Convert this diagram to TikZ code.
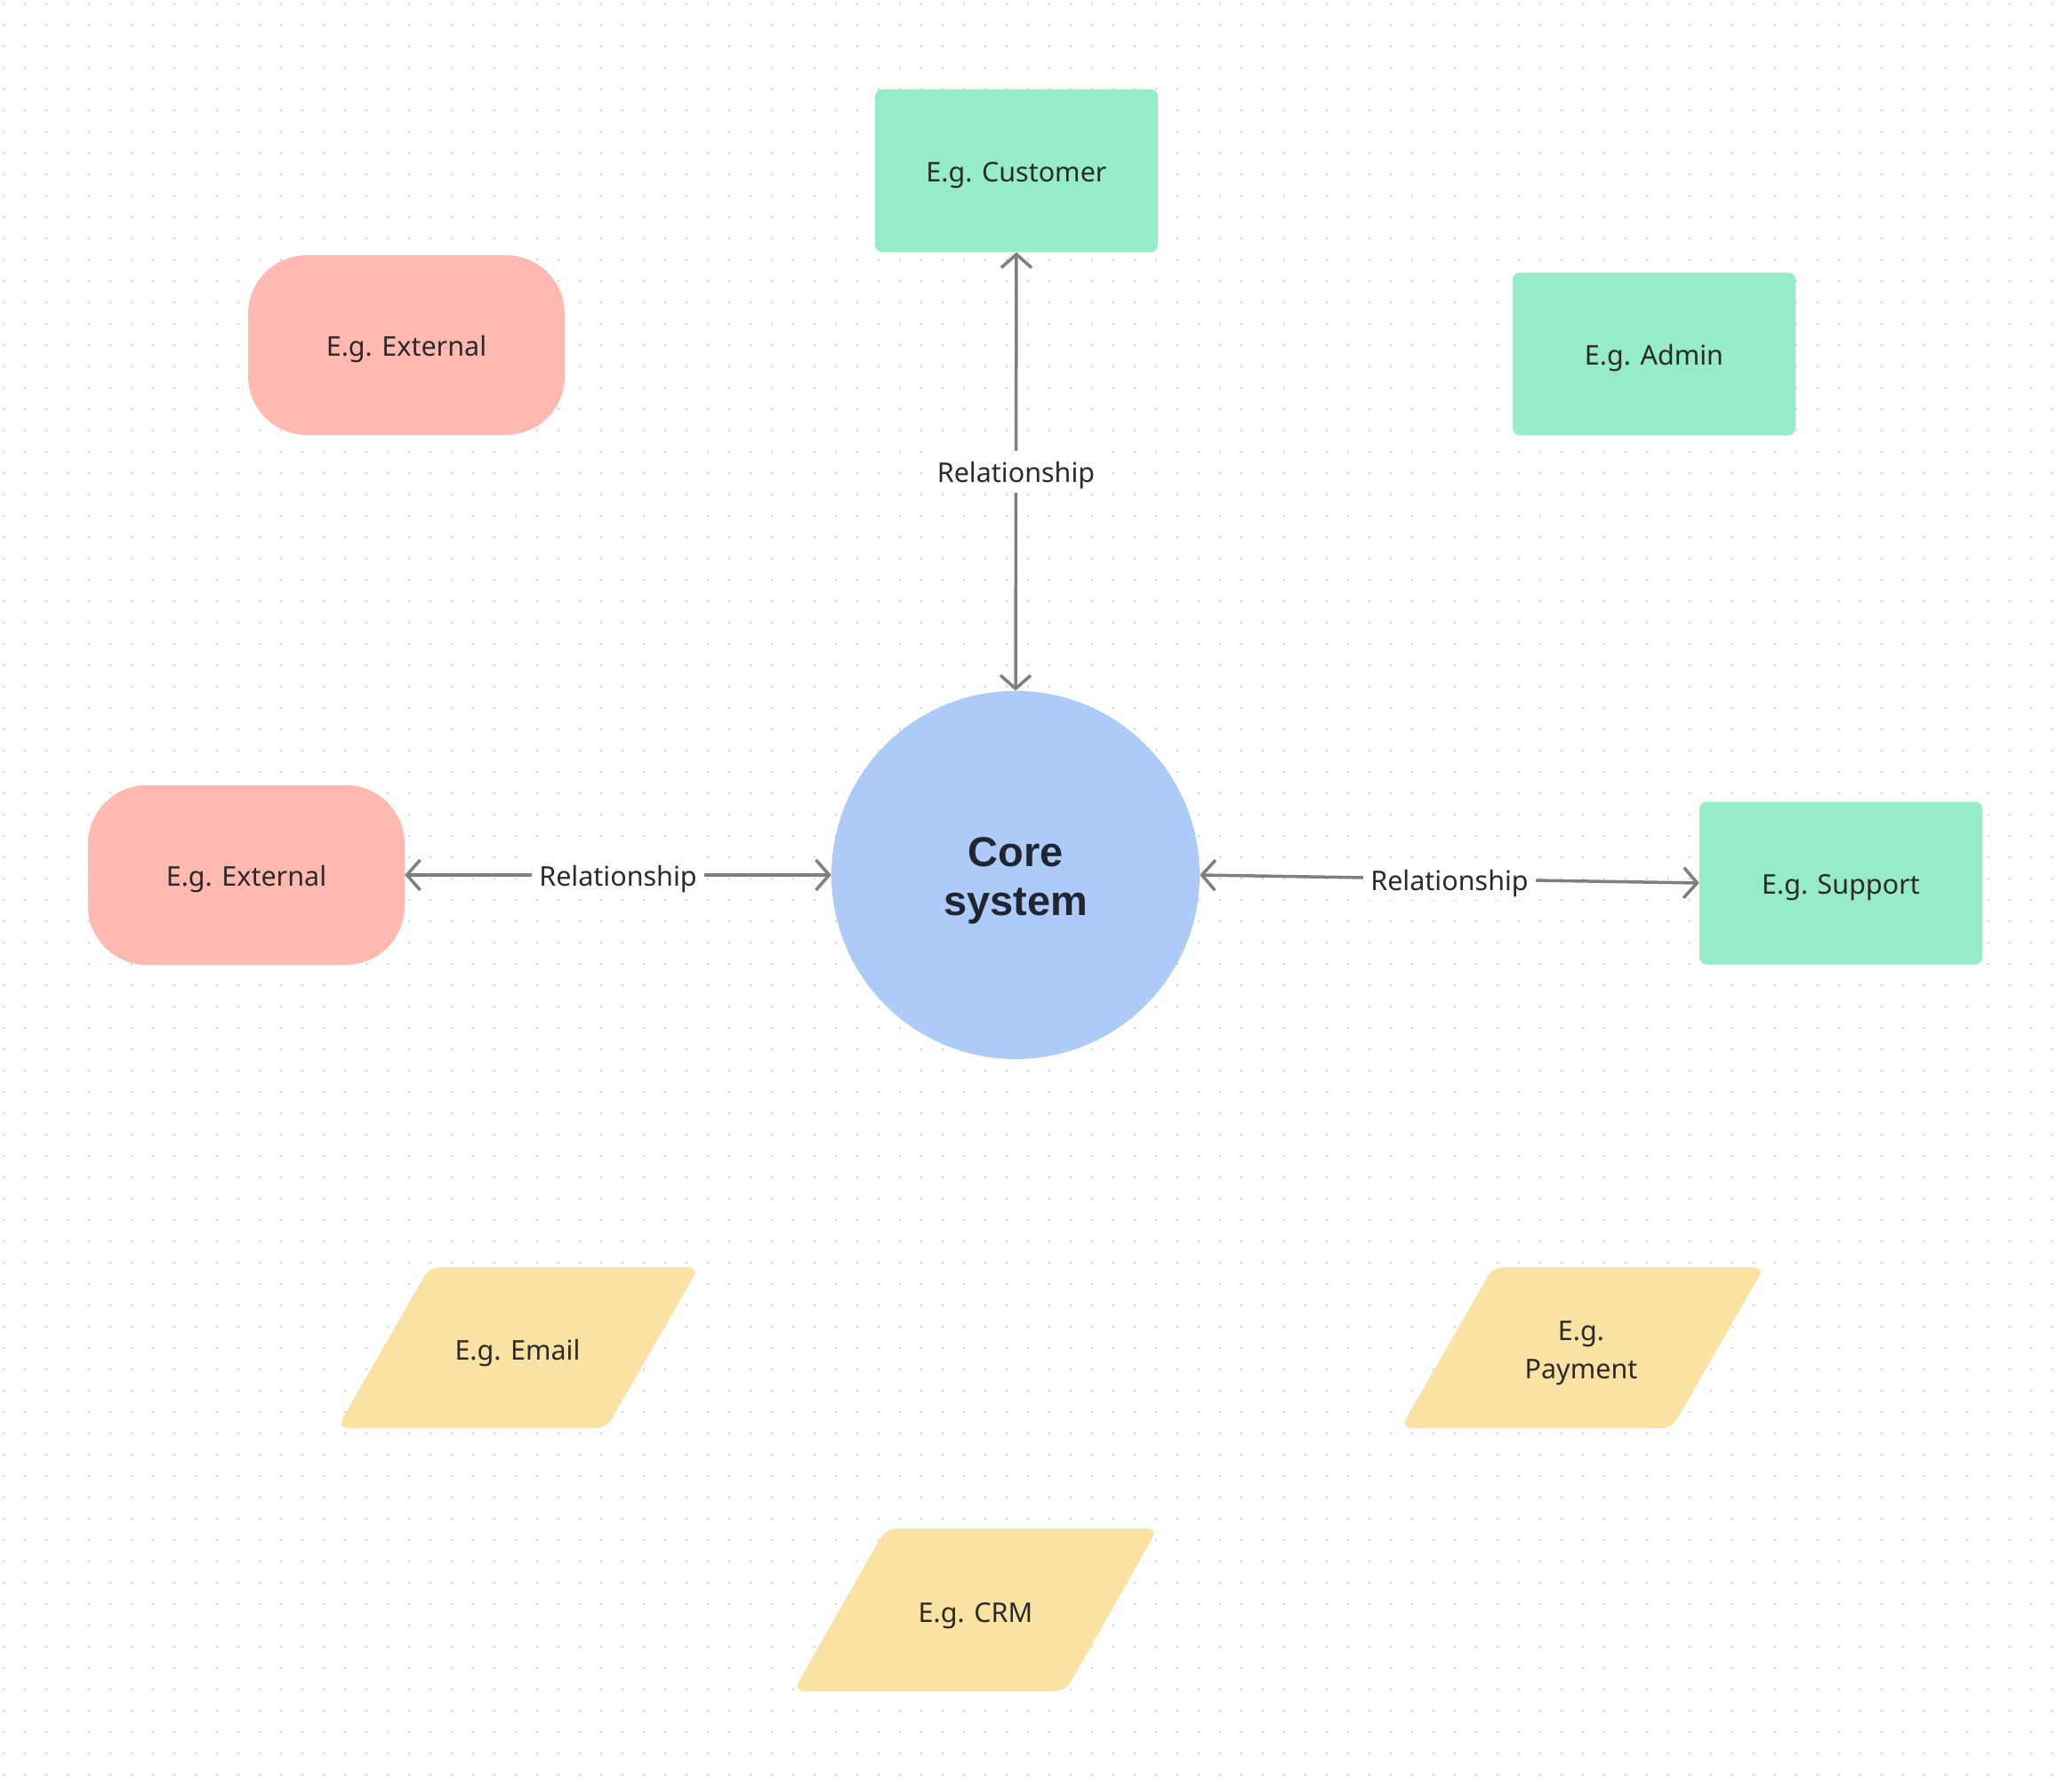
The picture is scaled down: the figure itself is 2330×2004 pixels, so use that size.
\documentclass[tikz,border=0pt]{standalone}
\usepackage{fontspec}
\setmainfont{Noto Sans}
\newfontfamily\corefont{Liberation Sans}
\usetikzlibrary{arrows.meta}
\definecolor{pinkc}{HTML}{FFB9B1}
\definecolor{greenc}{HTML}{96ECC8}
\definecolor{bluec}{HTML}{ADCBF8}
\definecolor{yellowc}{HTML}{FAE3A2}
\definecolor{txt}{HTML}{2A2A2A}
\definecolor{corec}{HTML}{1F2630}
\definecolor{linec}{HTML}{7F7F7F}
\definecolor{dotc}{HTML}{DADADA}
\tikzset{
  ext/.style={fill=pinkc, rounded corners=66pt, minimum width=356pt, minimum height=202pt, text=txt, font=\fontsize{30.5}{36}\selectfont, text height=32pt, text depth=7pt},
  actor/.style={fill=greenc, rounded corners=8pt, minimum width=318pt, minimum height=183pt, text=txt, font=\fontsize{30.5}{36}\selectfont, text height=32pt, text depth=7pt},
  core/.style={circle, fill=bluec, minimum size=414pt},
  coretext/.style={text=corec, font=\corefont\bfseries\fontsize{47}{55}\selectfont, align=center, yshift=-6pt},
  lbl/.style={text=txt, font=\fontsize{30.5}{43}\selectfont, align=center},
  para/.style={fill=yellowc, rounded corners=12pt},
  conn/.style={draw=linec, line width=3.5pt, {Straight Barb[length=15pt,width=34pt,line width=3.5pt]}-{Straight Barb[length=15pt,width=34pt,line width=3.5pt]}},
  rel/.style={fill=white, inner xsep=8pt, inner ysep=4pt, text=txt, font=\fontsize{30.5}{36}\selectfont, text height=32pt, text depth=7pt},
  dotrow/.style={draw=dotc, line width=3.2pt, line cap=round, dash pattern=on 0pt off 24pt}
}
\begin{document}
\begin{tikzpicture}[x=1pt,y=-1pt]
\useasboundingbox (0,0) rectangle (2330,2004);
\fill[white] (0,0) rectangle (2330,2004);
% dot grid
\foreach \j in {0,...,83}{
  \draw[dotrow] (4,4+24*\j) -- (2330,4+24*\j);
}
% nodes
\node[actor] (customer) at (1143,192) {E.g. Customer};
\node[actor] (admin) at (1860,398) {E.g. Admin};
\node[actor] (support) at (2070,993) {E.g. Support};
\node[ext] (ext1) at (457,388) {E.g. External};
\node[ext] (ext2) at (277,984) {E.g. External};
\node[core, label={[coretext]center:{Core\\system}}] (core) at (1142,984) {};
% parallelograms
\fill[para] (483,1425) -- (786,1425) -- (682,1606) -- (379,1606) -- cycle;
\node[lbl] (email) at (582,1522) {E.g. Email};
\fill[para] (1679,1425) -- (1984,1425) -- (1880,1606) -- (1575,1606) -- cycle;
\node[lbl] (payment) at (1778,1522) {E.g.\\Payment};
\fill[para] (996,1719) -- (1302,1719) -- (1198,1902) -- (892,1902) -- cycle;
\node[lbl] (crm) at (1097,1817) {E.g. CRM};
% connectors
\draw[conn] (customer.south) -- node[rel] {Relationship} (core.north);
\draw[conn] (ext2.east) -- node[rel] {Relationship} (core.west);
\draw[conn] (core.east) -- node[rel] {Relationship} (support.west);
\end{tikzpicture}
\end{document}
